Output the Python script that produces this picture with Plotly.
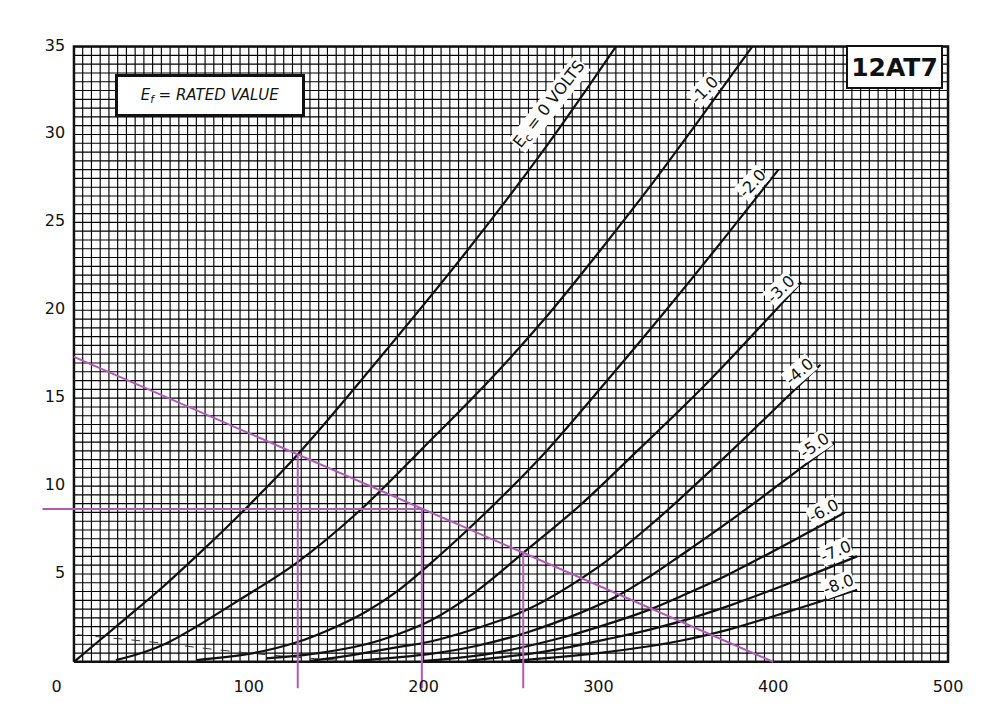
import numpy as np
import plotly.graph_objects as go

# plate characteristics, 12AT7 (one section): plate volts vs plate mA
ec0_v = [0, 12, 30, 49, 72, 98, 128, 170, 225, 270, 310]
ec0_i = [0, 1.0, 2.5, 4.1, 6.2, 8.7, 11.8, 16.7, 23.4, 29.3, 35.0]

ec1_v = [24, 40, 53, 70, 91, 127, 164, 200, 238, 270, 301, 330, 356, 388]
ec1_i = [0.1, 0.55, 1.06, 2.0, 3.3, 5.6, 8.65, 12.2, 16.05, 19.6, 23.4, 27.1, 30.6, 35.0]

ec2_v = [70, 100, 127, 150, 167, 186, 204, 224, 247, 271, 305, 337, 368, 403]
ec2_i = [0.1, 0.45, 1.1, 2.0, 2.85, 4.1, 5.6, 7.4, 9.6, 12.07, 16.0, 19.8, 23.6, 28.0]

ec3_v = [110, 140, 167, 186, 204, 230, 257, 290, 323, 364, 416]
ec3_i = [0.2, 0.5, 1.0, 1.6, 2.35, 4.0, 6.2, 8.95, 12.07, 16.05, 21.6]

ec4_v = [135, 160, 186, 204, 230, 260, 300, 330, 347, 375, 427]
ec4_i = [0.05, 0.4, 0.85, 1.16, 1.9, 3.0, 5.4, 7.8, 9.3, 11.9, 16.9]

ec5_v = [160, 190, 204, 230, 260, 290, 310, 330, 347, 375, 435]
ec5_i = [0.05, 0.3, 0.45, 0.9, 1.7, 2.8, 3.7, 4.9, 6.05, 8.0, 12.45]

ec6_v = [200, 240, 280, 310, 330, 347, 375, 441]
ec6_i = [0.05, 0.5, 1.4, 2.3, 3.0, 3.72, 5.0, 8.5]

ec7_v = [225, 270, 310, 330, 347, 375, 410, 448]
ec7_i = [0.05, 0.6, 1.4, 1.85, 2.3, 3.2, 4.5, 6.0]

ec8_v = [250, 300, 330, 347, 375, 410, 448]
ec8_i = [0.05, 0.5, 0.9, 1.2, 1.85, 2.9, 4.1]

curve_names = ["E<sub>c</sub> = 0 VOLTS", "-1.0", "-2.0", "-3.0", "-4.0",
               "-5.0", "-6.0", "-7.0", "-8.0"]

# load line and operating points (purple construction lines)
load_v = [0, 400]
load_i = [17.35, 0]
op_v = [128, 199, 257]
op_i = [11.8, 8.7, 6.3]

# faint stray line near the bottom-left
stray_v = [2, 49, 72, 99, 125, 150]
stray_i = [1.54, 1.08, 0.8, 0.51, 0.28, 0.1]

x_ticks = [0, 100, 200, 300, 400, 500]
y_ticks = [5, 10, 15, 20, 25, 30, 35]

INK = "#111111"
PURPLE = "#b05ab8"

fig = go.Figure()

# graph paper
gx, gy = [], []
for v in np.arange(0, 501, 5):
    gx += [v, v, None]
    gy += [0, 35, None]
for a in np.arange(0, 35.01, 0.5):
    gx += [0, 500, None]
    gy += [a, a, None]
fig.add_trace(go.Scatter(x=gx, y=gy, mode="lines",
                         line=dict(color="#000000", width=1.15), hoverinfo="skip"))
fig.add_trace(go.Scatter(x=[0, 500, 500, 0, 0], y=[0, 0, 35, 35, 0], mode="lines",
                         line=dict(color=INK, width=2.5), hoverinfo="skip"))

fig.add_trace(go.Scatter(x=stray_v, y=stray_i, mode="lines",
                         line=dict(color="#333", width=1, dash="dash", shape="spline"),
                         hoverinfo="skip"))

curves = [(ec0_v, ec0_i), (ec1_v, ec1_i), (ec2_v, ec2_i), (ec3_v, ec3_i),
          (ec4_v, ec4_i), (ec5_v, ec5_i), (ec6_v, ec6_i), (ec7_v, ec7_i),
          (ec8_v, ec8_i)]
for (v, i), name in zip(curves, curve_names):
    fig.add_trace(go.Scatter(x=v, y=i, mode="lines", name=name,
                             line=dict(color=INK, width=2.2, shape="spline", smoothing=1.0)))

# load line + operating point lines (they run past the axes)
fig.add_trace(go.Scatter(x=load_v, y=load_i, mode="lines",
                         line=dict(color=PURPLE, width=2), hoverinfo="skip"))
px, py = [], []
for v, i in zip(op_v, op_i):
    px += [v, v, None]
    py += [i, -1.5, None]
px += [-18, op_v[1], None]
py += [op_i[1], op_i[1], None]
fig.add_trace(go.Scatter(x=px, y=py, mode="lines",
                         line=dict(color=PURPLE, width=2), hoverinfo="skip"))

# tick numbers
fig.add_trace(go.Scatter(x=[-5] * len(y_ticks), y=y_ticks, mode="text",
                         text=[str(t) for t in y_ticks], textposition="middle left",
                         textfont=dict(family="DejaVu Sans", size=16, color=INK),
                         cliponaxis=False, hoverinfo="skip"))
fig.add_trace(go.Scatter(x=[t if t else -10 for t in x_ticks], y=[-1.5] * len(x_ticks),
                         mode="text", text=[str(t) for t in x_ticks],
                         textposition="middle center",
                         textfont=dict(family="DejaVu Sans", size=16, color=INK),
                         cliponaxis=False, hoverinfo="skip"))

# curve labels
label_pos = [(272, 31.7, -52), (360.5, 32.5, -46), (388, 27.2, -47), (404, 21.2, -44),
             (415, 16.5, -41), (423.5, 12.3, -34), (429, 8.6, -28), (435.5, 6.3, -23),
             (437.5, 4.4, -20)]
for name, (lx, ly, ang) in zip(curve_names, label_pos):
    fig.add_annotation(x=lx, y=ly, text=name, showarrow=False, textangle=ang,
                       font=dict(family="DejaVu Sans", size=16, color=INK),
                       bgcolor="white", borderpad=0)

fig.add_annotation(x=77.8, y=32.2, text="<i>E<sub>f</sub> = RATED VALUE</i>",
                   showarrow=False, width=184, height=37, borderpad=0,
                   font=dict(family="DejaVu Sans", size=15, color=INK),
                   bgcolor="white", bordercolor=INK, borderwidth=3)
fig.add_annotation(x=469.5, y=33.85, text="<b>12AT7</b>", showarrow=False,
                   width=93, height=40, borderpad=0,
                   font=dict(family="DejaVu Sans", size=25, color=INK),
                   bgcolor="white", bordercolor=INK, borderwidth=2)

fig.update_layout(
    width=1000, height=719,
    margin=dict(l=31, r=25, t=21, b=30),
    paper_bgcolor="white", plot_bgcolor="white",
    showlegend=False, hovermode=False,
    xaxis=dict(range=[-20, 520], visible=False),
    yaxis=dict(range=[-2, 36], visible=False),
)

fig.write_html("out.html")
